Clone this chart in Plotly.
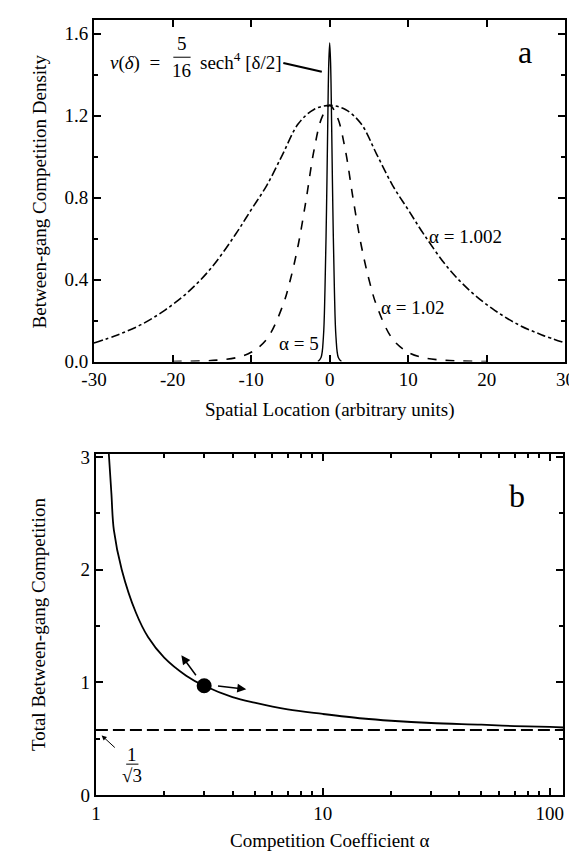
import plotly.graph_objects as go
import numpy as np

# ---------------- Panel a data ----------------
x_a1002 = [-30, -27, -24, -21, -18, -15, -12, -10, -8, -6, -4, -2, 0, 2, 4, 6, 8, 10, 12, 15, 18, 21, 24, 27, 30]
y_a1002 = [0.09, 0.13, 0.18, 0.25, 0.34, 0.46, 0.62, 0.74, 0.86, 1.01, 1.16, 1.23, 1.25, 1.23, 1.16, 1.01, 0.86, 0.74, 0.62, 0.46, 0.34, 0.25, 0.18, 0.13, 0.09]

x_a102 = [-20, -16, -14, -12, -10, -8, -6, -5, -4, -3, -2, -1, 0, 1, 2, 3, 4, 5, 6, 8, 10, 12, 14, 16, 20]
y_a102 = [0.0, 0.003, 0.008, 0.018, 0.045, 0.11, 0.27, 0.40, 0.57, 0.79, 1.03, 1.19, 1.25, 1.19, 1.03, 0.79, 0.57, 0.40, 0.27, 0.11, 0.045, 0.018, 0.008, 0.003, 0.0]

x_a5 = [-1.5, -1.1, -0.8, -0.6, -0.4, -0.25, -0.12, 0, 0.12, 0.25, 0.4, 0.6, 0.8, 1.1, 1.5]
y_a5 = [0.0, 0.02, 0.12, 0.35, 0.75, 1.15, 1.45, 1.555, 1.45, 1.15, 0.75, 0.35, 0.12, 0.02, 0.0]

xticks_a = [-30, -20, -10, 0, 10, 20, 30]
xticktext_a = ["-30", "-20", "-10", "0", "10", "20", "30"]
yticks_a = [0.0, 0.4, 0.8, 1.2, 1.6]
yticktext_a = ["0.0", "0.4", "0.8", "1.2", "1.6"]

# ---------------- Panel b data ----------------
alpha_b = [1.14, 1.17, 1.2, 1.3, 1.5, 1.7, 2.0, 2.5, 3, 4, 5, 7, 10, 15, 20, 30, 50, 70, 100, 115]
total_b = [3.03, 2.68, 2.35, 2.0, 1.62, 1.40, 1.22, 1.06, 0.97, 0.87, 0.82, 0.76, 0.72, 0.68, 0.66, 0.64, 0.625, 0.613, 0.605, 0.60]
asym_b = 0.577
dot_alpha, dot_total = 3.0, 0.97

xticks_b = [1, 10, 100]
xminor_b = [2, 3, 4, 5, 6, 7, 8, 9, 20, 30, 40, 50, 60, 70, 80, 90]
yticks_b = [0, 1, 2, 3]

FONT = "Liberation Serif, Times New Roman, DejaVu Serif, serif"
fig = go.Figure()

# panel a curves
fig.add_trace(go.Scatter(x=x_a1002, y=y_a1002, mode="lines", line=dict(color="black", width=1.6, dash="dashdot", shape="spline"), xaxis="x", yaxis="y"))
fig.add_trace(go.Scatter(x=x_a102, y=y_a102, mode="lines", line=dict(color="black", width=1.6, dash="dash", shape="spline"), xaxis="x", yaxis="y"))
fig.add_trace(go.Scatter(x=x_a5, y=y_a5, mode="lines", line=dict(color="black", width=1.4, shape="spline"), xaxis="x", yaxis="y"))
# leader line
fig.add_trace(go.Scatter(x=[-5.9, -1.0], y=[1.457, 1.414], mode="lines", line=dict(color="black", width=2.2), xaxis="x", yaxis="y"))
# fraction bar 5/16
fig.add_trace(go.Scatter(x=[-19.9, -17.7], y=[1.485, 1.485], mode="lines", line=dict(color="black", width=1), xaxis="x", yaxis="y"))

# panel b curves
fig.add_trace(go.Scatter(x=alpha_b, y=total_b, mode="lines", line=dict(color="black", width=1.8, shape="spline"), xaxis="x2", yaxis="y2"))
fig.add_trace(go.Scatter(x=[1, 115], y=[asym_b, asym_b], mode="lines", line=dict(color="black", width=2, dash="12px,5px"), xaxis="x2", yaxis="y2"))
fig.add_trace(go.Scatter(x=[dot_alpha], y=[dot_total], mode="markers", marker=dict(color="black", size=15), xaxis="x2", yaxis="y2"))
# fraction bar 1/sqrt3
fig.add_trace(go.Scatter(x=[1.36, 1.54], y=[0.275, 0.275], mode="lines", line=dict(color="black", width=1), xaxis="x2", yaxis="y2"))

axis_common = dict(showline=True, linecolor="black", linewidth=2, mirror="allticks", ticks="inside",
                   ticklen=7, tickwidth=1.5, tickcolor="black", showgrid=False, zeroline=False,
                   tickfont=dict(family=FONT, size=19, color="black"))

fig.update_layout(
    width=577, height=853, margin=dict(l=0, r=0, t=0, b=0),
    paper_bgcolor="white", plot_bgcolor="white", showlegend=False,
    font=dict(family=FONT, color="black"),
    xaxis=dict(domain=[0.1317, 0.9827], range=[-30, 30], tickvals=xticks_a, ticktext=xticktext_a, anchor="y",
               **axis_common),
    yaxis=dict(domain=[0.5850, 0.9941], range=[0, 1.667], tickvals=yticks_a, ticktext=yticktext_a, anchor="x",
               minor=dict(ticks="inside", dtick=0.2, tick0=0, ticklen=4, tickwidth=1.5, tickcolor="black"),
               **axis_common),
    xaxis2=dict(domain=[0.1352, 0.9792], type="log", range=[0, np.log10(115)], tickvals=xticks_b,
                ticktext=["1", "10", "100"], anchor="y2",
                minor=dict(ticks="inside", tickmode="array", tickvals=xminor_b, ticklen=4, tickwidth=1.5, tickcolor="black"),
                **axis_common),
    yaxis2=dict(domain=[0.0657, 0.4748], range=[0, 3.03], tickvals=yticks_b, ticktext=["0", "1", "2", "3"], anchor="x2",
                minor=dict(ticks="inside", dtick=0.5, tick0=0, ticklen=4, tickwidth=1.5, tickcolor="black"),
                **axis_common),
)

ann = []
tf = dict(family=FONT, size=19, color="black")
# axis titles
ann.append(dict(text="Between-gang Competition Density", x=19/577, y=1-180/853, xref="paper", yref="paper",
                xanchor="center", yanchor="middle", textangle=-90, showarrow=False, font=tf))
ann.append(dict(text="Spatial Location (arbitrary units)", x=(76+567)/2/577, y=1-404/853, xref="paper", yref="paper",
                xanchor="center", yanchor="middle", showarrow=False, font=tf))
ann.append(dict(text="Total Between-gang Competition", x=19/577, y=1-622/853, xref="paper", yref="paper",
                xanchor="center", yanchor="middle", textangle=-90, showarrow=False, font=tf))
ann.append(dict(text="Competition Coefficient α", x=(78+565)/2/577, y=1-843/853, xref="paper", yref="paper",
                xanchor="center", yanchor="middle", showarrow=False, font=tf))
# panel letters
ann.append(dict(text="a", x=24.9, y=1.51, xref="x", yref="y", showarrow=False, font=dict(family=FONT, size=32, color="black")))
ann.append(dict(text="b", x=np.log10(72), y=2.65, xref="x2", yref="y2", showarrow=False, font=dict(family=FONT, size=32, color="black")))
# formula
ann.append(dict(text="<i>v</i>(<i>δ</i>)  =", x=-21.3, y=1.457, xref="x", yref="y", xanchor="right", showarrow=False, font=tf))
ann.append(dict(text="5", x=-18.8, y=1.55, xref="x", yref="y", showarrow=False, font=tf))
ann.append(dict(text="16", x=-18.8, y=1.42, xref="x", yref="y", showarrow=False, font=tf))
ann.append(dict(text="sech<sup>4</sup> [δ/2]", x=-16.8, y=1.465, xref="x", yref="y", xanchor="left", showarrow=False, font=tf))
# curve labels
ann.append(dict(text="α = 1.002", x=17.3, y=0.608, xref="x", yref="y", showarrow=False, font=tf))
ann.append(dict(text="α = 1.02", x=10.5, y=0.264, xref="x", yref="y", showarrow=False, font=tf))
ann.append(dict(text="α = 5", x=-3.95, y=0.09, xref="x", yref="y", showarrow=False, font=tf))
# arrows in panel b (log axis -> log10 coordinates)
ann.append(dict(x=np.log10(2.38), y=1.24, ax=np.log10(2.79), ay=1.05, xref="x2", yref="y2", axref="x2", ayref="y2",
                text="", showarrow=True, arrowhead=2, arrowsize=1.2, arrowwidth=1.5, arrowcolor="black"))
ann.append(dict(x=np.log10(4.6), y=0.94, ax=np.log10(3.4), ay=0.97, xref="x2", yref="y2", axref="x2", ayref="y2",
                text="", showarrow=True, arrowhead=2, arrowsize=1.2, arrowwidth=1.5, arrowcolor="black"))
ann.append(dict(x=np.log10(1.06), y=0.53, ax=np.log10(1.23), ay=0.41, xref="x2", yref="y2", axref="x2", ayref="y2",
                text="", showarrow=True, arrowhead=2, arrowsize=1.0, arrowwidth=1, arrowcolor="black"))
ann.append(dict(text="1", x=np.log10(1.445), y=0.36, xref="x2", yref="y2", showarrow=False, font=tf))
ann.append(dict(text="√3", x=np.log10(1.445), y=0.17, xref="x2", yref="y2", showarrow=False, font=tf))

fig.update_layout(annotations=ann)
fig.write_html("out.html")
